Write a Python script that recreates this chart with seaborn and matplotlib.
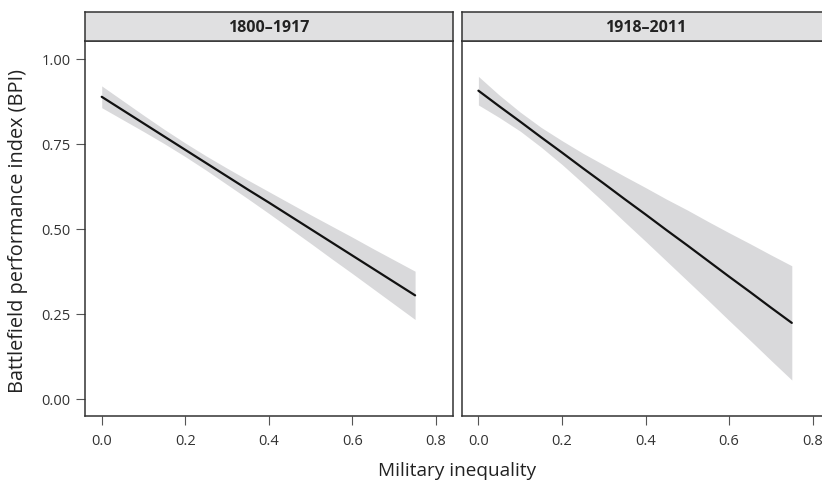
import numpy as np
import pandas as pd
import matplotlib
matplotlib.use("Agg")
import matplotlib.pyplot as plt
import seaborn as sns

# ---- data ----
panels = ["1800\u20131917", "1918\u20132011"]
x_vals = [0.00, 0.05, 0.10, 0.15, 0.20, 0.25, 0.30, 0.35, 0.40, 0.45, 0.50, 0.55, 0.60, 0.65, 0.70, 0.75]

fit_1800 = [0.888, 0.849, 0.810, 0.771, 0.732, 0.693, 0.654, 0.615, 0.577, 0.538, 0.499, 0.460, 0.421, 0.382, 0.343, 0.304]
lo_1800 = [0.856, 0.821, 0.786, 0.750, 0.712, 0.672, 0.630, 0.588, 0.545, 0.501, 0.457, 0.412, 0.368, 0.323, 0.278, 0.233]
hi_1800 = [0.920, 0.877, 0.834, 0.792, 0.752, 0.714, 0.678, 0.643, 0.609, 0.575, 0.541, 0.508, 0.475, 0.441, 0.408, 0.375]

fit_1918 = [0.906, 0.860, 0.815, 0.769, 0.724, 0.678, 0.633, 0.587, 0.542, 0.496, 0.451, 0.405, 0.359, 0.314, 0.268, 0.223]
lo_1918 = [0.864, 0.827, 0.787, 0.740, 0.689, 0.634, 0.578, 0.520, 0.463, 0.405, 0.347, 0.289, 0.230, 0.172, 0.113, 0.055]
hi_1918 = [0.948, 0.893, 0.843, 0.798, 0.759, 0.722, 0.688, 0.654, 0.621, 0.587, 0.555, 0.521, 0.488, 0.456, 0.423, 0.391]

x_ticks = [0.0, 0.2, 0.4, 0.6, 0.8]
x_ticklabels = ["0.0", "0.2", "0.4", "0.6", "0.8"]
y_ticks = [0.00, 0.25, 0.50, 0.75, 1.00]
y_ticklabels = ["0.00", "0.25", "0.50", "0.75", "1.00"]

x_label = "Military inequality"
y_label = "Battlefield performance index (BPI)"

# ---- frame ----
df = pd.concat([
    pd.DataFrame({"period": panels[0], "x": x_vals, "fit": fit_1800, "lo": lo_1800, "hi": hi_1800}),
    pd.DataFrame({"period": panels[1], "x": x_vals, "fit": fit_1918, "lo": lo_1918, "hi": hi_1918}),
], ignore_index=True)

sns.set_theme(style="white")
plt.rcParams["font.family"] = ["Open Sans", "DejaVu Sans"]

W, H = 822, 481
fig = plt.figure(figsize=(W / 100, H / 100), dpi=100)

panel_left_px = [85.0, 461.7]
panel_w_px = 367.7
panel_top_px = 41.7
panel_bot_px = 416.7
strip_top_px = 12.7

spine_col = "#333333"
tick_col = "#555555"
band_col = "#d9d9db"
strip_col = "#e0e0e1"

for i, name in enumerate(panels):
    sub = df[df["period"] == name]
    l = panel_left_px[i] / W
    w = panel_w_px / W
    b = (H - panel_bot_px) / H
    h = (panel_bot_px - panel_top_px) / H
    ax = fig.add_axes([l, b, w, h])
    ax.fill_between(sub["x"], sub["lo"], sub["hi"], color=band_col, linewidth=0, zorder=1)
    sns.lineplot(data=sub, x="x", y="fit", ax=ax, color="#111111", linewidth=1.6, zorder=2)
    ax.set_xlim(-0.04, 0.84)
    ax.set_ylim(-0.05, 1.053)
    ax.set_xticks(x_ticks)
    ax.set_xticklabels(x_ticklabels)
    ax.set_xlabel("")
    ax.set_ylabel("")
    ax.tick_params(axis="both", direction="out", length=6.5, width=0.8, color=tick_col,
                   labelsize=10.5, labelcolor="#333333", pad=4, left=(i == 0), bottom=True)
    ax.tick_params(axis="x", pad=6)
    if i == 0:
        ax.set_yticks(y_ticks)
        ax.set_yticklabels(y_ticklabels)
    else:
        ax.set_yticks([])
    for s in ax.spines.values():
        s.set_color(spine_col)
        s.set_linewidth(1.1)
        s.set_visible(True)
    ax.set_facecolor("white")
    ax.grid(False)

    # strip
    sb = (H - panel_top_px) / H
    sh = (panel_top_px - strip_top_px) / H
    sax = fig.add_axes([l, sb, w, sh])
    sax.set_facecolor(strip_col)
    sax.set_xticks([])
    sax.set_yticks([])
    for s in sax.spines.values():
        s.set_color(spine_col)
        s.set_linewidth(1.1)
        s.set_visible(True)
    sax.text(0.5, 0.47, name, transform=sax.transAxes, ha="center", va="center",
             fontsize=11.5, fontweight="bold", color="#222222")

fig.text(457 / W, 1 - 476 / H, x_label, ha="center", va="baseline", fontsize=13.7, color="#222222")
fig.text(18 / W, 1 - 231 / H, y_label, ha="center", va="center", rotation=90, fontsize=14.3, color="#222222")

fig.savefig("out.png", dpi=100)
